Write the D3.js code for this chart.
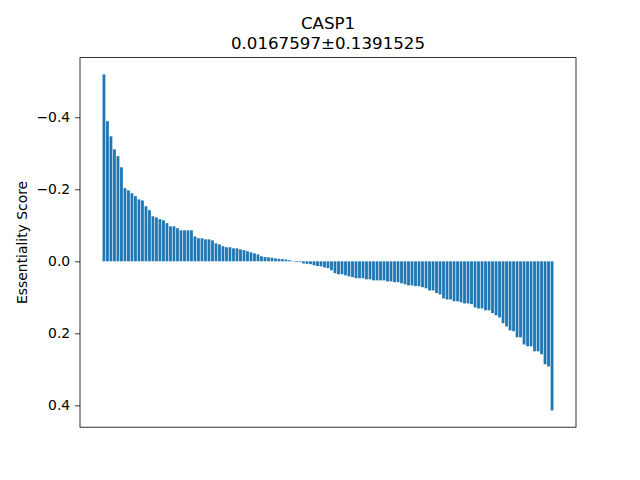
<!DOCTYPE html>
<html>
<head>
<meta charset="utf-8">
<script src="https://cdn.jsdelivr.net/npm/d3@7"></script>
<style>
  body { margin: 0; background: #fff; }
  text { font-family: "DejaVu Sans", sans-serif; }
</style>
</head>
<body>
<div class="chart"></div>
<script>
//chart text
var geneName = "CASP1";
var summaryText = "0.0167597\u00b10.1391525";
var yLabel = "Essentiality Score";

//tick values shown on the y axis
var yTicks = [-0.4, -0.2, 0.0, 0.2, 0.4];

//essentiality scores, sorted
var scores = [
  -0.519, -0.389, -0.347, -0.311, -0.292, -0.261, -0.203, -0.197, -0.189, -0.181,
  -0.172, -0.169, -0.153, -0.142, -0.125, -0.122, -0.117, -0.114, -0.106, -0.097,
  -0.097, -0.092, -0.086, -0.086, -0.086, -0.086, -0.069, -0.064, -0.064, -0.061,
  -0.061, -0.058, -0.050, -0.047, -0.042, -0.039, -0.039, -0.036, -0.036, -0.033,
  -0.031, -0.028, -0.025, -0.022, -0.019, -0.014, -0.012, -0.011, -0.010, -0.008,
  -0.007, -0.006, -0.005, -0.003, -0.001, 0.002, 0.002, 0.006, 0.007, 0.008,
  0.011, 0.013, 0.014, 0.017, 0.019, 0.025, 0.033, 0.036, 0.036, 0.039,
  0.042, 0.044, 0.047, 0.047, 0.047, 0.050, 0.050, 0.053, 0.053, 0.053,
  0.053, 0.056, 0.056, 0.058, 0.058, 0.061, 0.064, 0.067, 0.067, 0.069,
  0.069, 0.072, 0.075, 0.081, 0.081, 0.088, 0.092, 0.103, 0.106, 0.106,
  0.111, 0.111, 0.114, 0.117, 0.117, 0.119, 0.128, 0.131, 0.131, 0.136,
  0.136, 0.144, 0.150, 0.156, 0.172, 0.181, 0.192, 0.194, 0.211, 0.211,
  0.231, 0.236, 0.236, 0.250, 0.250, 0.258, 0.286, 0.292, 0.414
];

var width = 640, height = 480;
var plot = { left: 80, right: 576, top: 57.6, bottom: 427.2 };

var svg = d3.select(".chart").append("svg")
  .attr("width", width)
  .attr("height", height);

//x scale on bar index, with 5% margins like matplotlib
var n = scores.length;
var xSpan = (n - 1 + 0.4) - (-0.4);
var x = d3.scaleLinear()
  .domain([-0.4 - 0.05 * xSpan, n - 1 + 0.4 + 0.05 * xSpan])
  .range([plot.left, plot.right]);

//y scale, inverted so negative scores sit on top
var yMin = Math.min(0, d3.min(scores));
var yMax = Math.max(0, d3.max(scores));
var yPad = 0.05 * (yMax - yMin);
var y = d3.scaleLinear()
  .domain([yMin - yPad, yMax + yPad])
  .range([plot.top, plot.bottom]);

//bars
svg.append("g")
  .selectAll("rect")
  .data(scores)
  .enter()
  .append("rect")
  .attr("x", function(d, i) { return x(i - 0.4); })
  .attr("width", function(d, i) { return x(i + 0.4) - x(i - 0.4); })
  .attr("y", function(d) { return Math.min(y(0), y(d)); })
  .attr("height", function(d) { return Math.abs(y(d) - y(0)); })
  .attr("fill", "#1f77b4");

//y axis
var yAxis = d3.axisLeft(y)
  .tickValues(yTicks)
  .tickSize(4.9)
  .tickPadding(4.9)
  .tickFormat(function(d) { return d3.format(".1f")(d).replace("-", "\u2212"); });

var yAxisGroup = svg.append("g")
  .attr("transform", "translate(" + plot.left + ",0)")
  .call(yAxis);
yAxisGroup.select(".domain").remove();
yAxisGroup.selectAll("line").attr("stroke", "#000").attr("stroke-width", 0.8);
yAxisGroup.selectAll("text")
  .attr("fill", "#000")
  .style("font-size", "13.9px")
  .style("font-family", "DejaVu Sans");

//axes frame
svg.append("rect")
  .attr("x", plot.left)
  .attr("y", plot.top)
  .attr("width", plot.right - plot.left)
  .attr("height", plot.bottom - plot.top)
  .attr("fill", "none")
  .attr("stroke", "#000")
  .attr("stroke-width", 0.8);

//title, two lines
var cx = (plot.left + plot.right) / 2;
svg.append("text")
  .attr("x", cx)
  .attr("y", 28.5)
  .attr("text-anchor", "middle")
  .style("font-size", "16.67px")
  .text(geneName);
svg.append("text")
  .attr("x", cx)
  .attr("y", 49)
  .attr("text-anchor", "middle")
  .style("font-size", "16.67px")
  .text(summaryText);

//y label
svg.append("text")
  .attr("transform", "translate(27," + ((plot.top + plot.bottom) / 2) + ") rotate(-90)")
  .attr("text-anchor", "middle")
  .style("font-size", "13.9px")
  .text(yLabel);
</script>
</body>
</html>
